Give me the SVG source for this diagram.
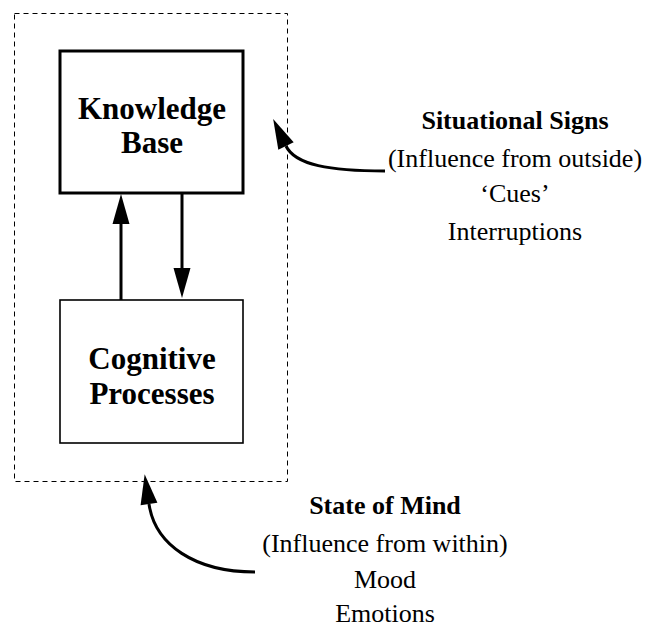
<svg xmlns="http://www.w3.org/2000/svg" width="650" height="630" viewBox="0 0 650 630">
  <style>
    .boundary { fill: none; stroke: #000; stroke-width: 1; stroke-dasharray: 5 4; }
    .box-thick { fill: #fff; stroke: #000; stroke-width: 3; }
    .box-thin { fill: #fff; stroke: #000; stroke-width: 1.6; }
    .title { font-family: "Liberation Serif", "Times New Roman", serif; font-weight: bold; font-size: 31px; text-anchor: middle; fill: #000; }
    .side-b { font-family: "Liberation Serif", "Times New Roman", serif; font-weight: bold; font-size: 26px; text-anchor: middle; fill: #000; }
    .side { font-family: "Liberation Serif", "Times New Roman", serif; font-size: 26px; text-anchor: middle; fill: #000; }
    .link { fill: none; stroke: #000; stroke-width: 3; marker-end: url(#head); }
  </style>
  <defs>
    <marker id="head" markerUnits="userSpaceOnUse" markerWidth="32" markerHeight="18" refX="0" refY="8.5" orient="auto" overflow="visible">
      <path d="M0,0 L30,8.5 L0,17 Z" fill="#000"/>
    </marker>
  </defs>
  <rect width="650" height="630" fill="#fff"/>

  <!-- dashed boundary of the mind -->
  <rect class="boundary" x="14.5" y="13.5" width="273" height="468"/>

  <g id="knowledge-base">
    <rect class="box-thick" x="60" y="51" width="183" height="142"/>
    <text class="title" x="152" y="119">Knowledge</text>
    <text class="title" x="152" y="153">Base</text>
  </g>

  <g id="cognitive-processes">
    <rect class="box-thin" x="60" y="300" width="183" height="143"/>
    <text class="title" x="152" y="369">Cognitive</text>
    <text class="title" x="152" y="404">Processes</text>
  </g>

  <g id="situational-signs">
    <text class="side-b" x="515" y="129">Situational Signs</text>
    <text class="side" x="515" y="167">(Influence from outside)</text>
    <text class="side" x="515" y="202">‘Cues’</text>
    <text class="side" x="515" y="240">Interruptions</text>
  </g>

  <g id="state-of-mind">
    <text class="side-b" x="385" y="514">State of Mind</text>
    <text class="side" x="385" y="552">(Influence from within)</text>
    <text class="side" x="385" y="588">Mood</text>
    <text class="side" x="385" y="622">Emotions</text>
  </g>

  <g id="connectors">
    <path class="link" d="M121,300 L121,224"/>
    <path class="link" d="M182,193 L182,268"/>
    <path class="link" d="M385,171 C330,171 295,165 286,146"/>
    <path class="link" d="M255,572 C195,572 155,545 149,504"/>
  </g>
</svg>
